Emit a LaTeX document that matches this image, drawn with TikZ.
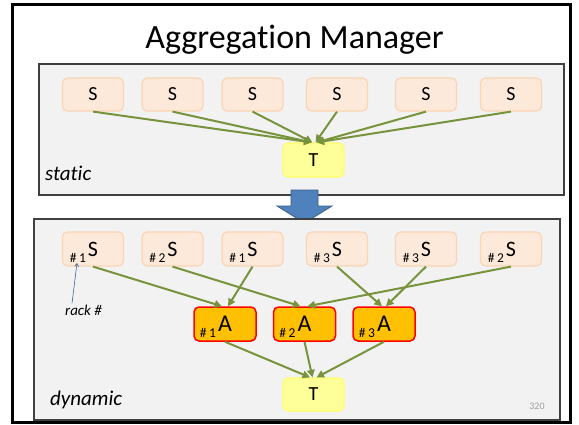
\documentclass[tikz,border=0pt]{standalone}
\usepackage{fontspec}
\setmainfont{Carlito}[Ligatures=NoCommon]
\usetikzlibrary{arrows.meta}

\definecolor{panelfill}{HTML}{F2F2F2}
\definecolor{panelline}{HTML}{404040}
\definecolor{srcfill}{HTML}{FDE9D9}
\definecolor{srcline}{HTML}{FBD4B4}
\definecolor{tgtfill}{HTML}{FFFF99}
\definecolor{tgtline}{HTML}{FFFF66}
\definecolor{aggfill}{HTML}{FFC000}
\definecolor{aggline}{HTML}{FF0000}
\definecolor{flowgreen}{HTML}{77933C}
\definecolor{bluefill}{HTML}{4F81BD}
\definecolor{blueline}{HTML}{385D8A}
\definecolor{pagenum}{HTML}{A0A0A0}

% small rack number hanging to the lower left of a box letter
\newcommand{\rackid}[1]{\makebox[0pt][r]{\smash{\raisebox{-6pt}{\fontsize{13.5}{13.5}\selectfont\#\kern2.5pt#1}}\kern2pt}}

\begin{document}
\begin{tikzpicture}[x=1pt,y=-1pt,
  panel/.style={draw=panelline, fill=panelfill, line width=1.5pt},
  box/.style={draw, rounded corners=5pt, line width=1.2pt, inner sep=0pt,
              minimum width=61pt, minimum height=34pt},
  src/.style={box, fill=srcfill, draw=srcline, minimum height=33pt,
              font=\fontsize{20}{20}\selectfont},
  dsrc/.style={box, fill=srcfill, draw=srcline, font=\fontsize{22}{22}\selectfont},
  tgt/.style={box, fill=tgtfill, draw=tgtline, font=\fontsize{20}{20}\selectfont},
  agg/.style={box, fill=aggfill, draw=aggline, line width=1.5pt, minimum width=62pt,
              font=\fontsize{24}{24}\selectfont},
  flow/.style={draw=flowgreen, line width=2pt, -{Triangle[length=7.5pt,width=7.5pt]}},
  tag/.style={font=\itshape\fontsize{21}{21}\selectfont, anchor=base west, inner sep=0pt}
]
\useasboundingbox (0,0) rectangle (579,424);

% slide frame
\draw[line width=3pt] (12.5,4.7) rectangle (570.5,422.3);

% title
\node[font=\fontsize{34}{34}\selectfont, anchor=base, inner sep=0pt] (title) at (294.5,48) {Aggregation Manager};

% ---------- static panel ----------
\draw[panel] (39,64) rectangle (564,195);
\foreach \i/\x in {1/93,2/172.5,3/252.5,4/337,5/426,6/511}
  \node[src] (ss\i) at (\x,94.5) {S};
\node[tgt] (st) at (313.5,160) {T};
\draw[flow] (ss1.south) -- ([xshift=-2pt]st.north);
\draw[flow] (ss2.south) -- ([xshift=-2pt]st.north);
\draw[flow] (ss3.south) -- ([xshift=-1pt]st.north);
\draw[flow] (ss4.south) -- ([xshift=2pt]st.north);
\draw[flow] (ss5.south) -- ([xshift=3pt]st.north);
\draw[flow] (ss6.south) -- ([xshift=3pt]st.north);
\node[tag] (stag) at (45,180.5) {static};

% transition arrow
\draw[fill=bluefill, draw=blueline, line width=0.8pt]
  (291,190) -- (318,190) -- (318,206) -- (332,206) -- (304.5,223)
  -- (277,206) -- (291,206) -- cycle;

% ---------- dynamic panel ----------
\draw[panel] (34,219) rectangle (560,420);
\foreach \i/\x/\r in {1/93/1,2/172.5/2,3/252.5/1,4/337/3,5/426/3,6/511/2}
  \node[dsrc] (ds\i) at (\x,249) {\rackid{\r}S};
\foreach \i/\x in {1/225,2/304.5,3/384}
  \node[agg] (a\i) at (\x,324) {\rackid{\i}A};
\node[tgt, minimum height=33pt] (dt) at (313.5,394.5) {T};

\draw[flow] (ds1.south) -- ([xshift=-3pt]a1.north);
\draw[flow] (ds3.south) -- ([xshift=3pt]a1.north);
\draw[flow] (ds2.south) -- ([xshift=-4pt]a2.north);
\draw[flow] (ds6.south) -- ([xshift=3pt]a2.north);
\draw[flow] (ds4.south) -- ([xshift=-2pt]a3.north);
\draw[flow] (ds5.south) -- ([xshift=2pt]a3.north);
\draw[flow] (a1.south) -- ([xshift=-3.5pt]dt.north);
\draw[flow] (a2.south) -- ([xshift=-1pt]dt.north);
\draw[flow] (a3.south) -- ([xshift=3pt]dt.north);

% rack number callout
\node[font=\itshape\fontsize{15}{15}\selectfont, anchor=base, inner sep=1pt] (rack) at (83.5,315) {rack \#};
\coordinate (racktip) at (77,263);
\draw[blueline!80!bluefill, line width=0.6pt, -{Straight Barb[length=3pt,width=4pt]}]
  ([xshift=-11.5pt]rack.north) -- (racktip);

\node[tag] (dtag) at (50,405) {dynamic};
\node[font=\fontsize{10}{10}\selectfont, text=pagenum, inner sep=0pt] (pnum) at (537,406) {320};
\end{tikzpicture}
\end{document}
